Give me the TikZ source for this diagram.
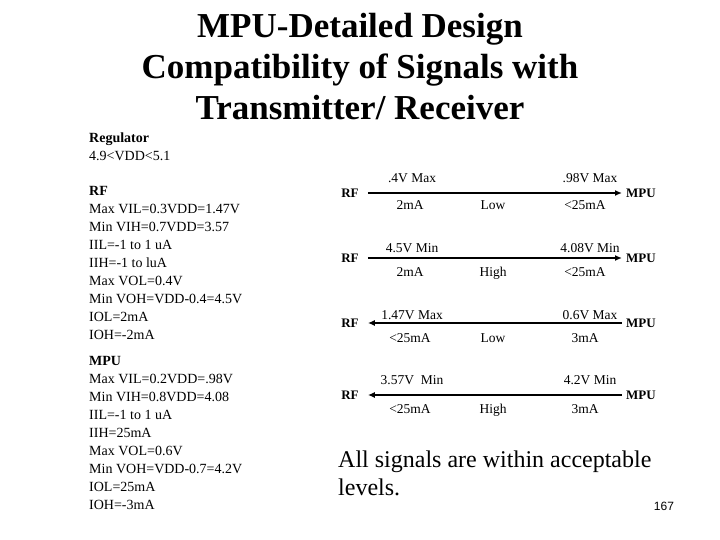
\documentclass[tikz,border=0pt]{standalone}
\usepackage{fontspec}
\usetikzlibrary{calc,arrows.meta}
\setmainfont{Liberation Serif}
\newfontfamily\numfont{Liberation Sans}
\begin{document}
\begin{tikzpicture}[x=1pt,y=-1pt,
  lbl/.style={font=\fontsize{13.5}{15}\selectfont, inner sep=0pt},
  end/.style={font=\fontsize{13}{15}\selectfont\bfseries, inner sep=1pt},
  sig/.style={line width=1.4pt},
  left/.style={font=\fontsize{14}{18}\selectfont, align=left, anchor=north west, inner sep=0pt}]
\useasboundingbox (0,0) rectangle (720,540);
\node[font=\fontsize{35}{41}\selectfont\bfseries, align=center] (title) at (360,67)
 {MPU-Detailed Design\\Compatibility of Signals with\\Transmitter/ Receiver};
\node[left] (reg) at (89,133) {\textbf{Regulator}\\4.9<VDD<5.1};
\node[left] (rf) at (89,186) {\textbf{RF}\\Max VIL=0.3VDD=1.47V\\Min VIH=0.7VDD=3.57\\IIL=-1 to 1 uA\\IIH=-1 to  luA\\Max VOL=0.4V\\Min VOH=VDD-0.4=4.5V\\IOL=2mA\\IOH=-2mA};
\node[left] (mpu) at (89,356) {\textbf{MPU}\\Max VIL=0.2VDD=.98V\\Min VIH=0.8VDD=4.08\\IIL=-1 to 1 uA\\IIH=25mA\\Max VOL=0.6V\\Min VOH=VDD-0.7=4.2V\\IOL=25mA\\IOH=-3mA};
% rows
\foreach \i/\y/\dir/\ta/\tb/\ba/\bm/\bb/\ya/\yb in {
 1/193/->/.4V Max/.98V Max/2mA/Low/<25mA/178/205,
 2/258/->/4.5V Min/4.08V Min/2mA/High/<25mA/247/271,
 3/323/<-/1.47V Max/0.6V Max/<25mA/Low/3mA/314/337,
 4/395/<-/3.57V\ \ Min/4.2V Min/<25mA/High/3mA/379/408} {
  \node[end] (rf\i) at (350,\y) {RF};
  \node[end] (mp\i) at (641,\y) {MPU};
  \draw[sig,\dir,>={Latex[length=7pt,width=6pt]}] ($(rf\i.east)+(8,0)$) -- ($(mp\i.west)+(-3,0)$);
  \node[lbl,anchor=base] (ta\i) at (412,\ya+5) {\ta};
  \node[lbl,anchor=base] (tb\i) at (590,\ya+5) {\tb};
  \node[lbl,anchor=base] (ba\i) at (410,\yb+5) {\ba};
  \node[lbl,anchor=base] (bm\i) at (493,\yb+5) {\bm};
  \node[lbl,anchor=base] (bb\i) at (585,\yb+5) {\bb};
}
\node[font=\fontsize{24}{28}\selectfont, align=left, anchor=north west, inner sep=0pt] (note) at (338,451)
 {All signals are within acceptable\\levels.};
\node[font=\numfont\fontsize{12}{14}\selectfont] (pg) at (664,506) {167};
\end{tikzpicture}
\end{document}
